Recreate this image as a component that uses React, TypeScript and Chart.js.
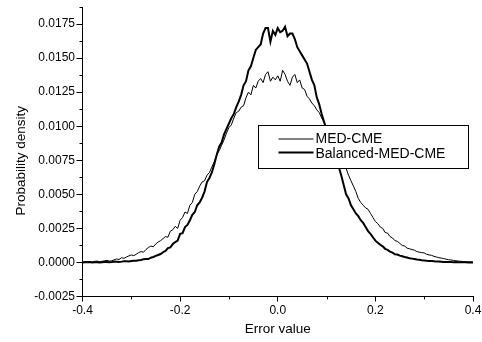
import { useEffect, useRef } from "react";
import { Chart, registerables } from "chart.js";

Chart.register(...registerables);

// Sampling grid of the error value axis (step 0.005 from -0.4 to 0.4)
const X_MIN = -0.4;
const X_STEP = 0.005;

// MED-CME probability density (thin line)
const medCme = [
  0.00003, 0.00006, 0.00005, 0.00002, 0.00004, 0.00008, 0.0001, 0.00005, 0.00008, 0.00012,
  0.00015, 0.0001, 0.00012, 0.0002, 0.00025, 0.00022, 0.00035, 0.0003, 0.0004, 0.00048,
  0.00055, 0.0005, 0.0006, 0.00072, 0.0008, 0.00075, 0.00095, 0.0011, 0.0012, 0.00115,
  0.00135, 0.0015, 0.0016, 0.00175, 0.0019, 0.00185, 0.0023, 0.0024, 0.00265, 0.0025,
  0.0031, 0.0033, 0.0037, 0.0036, 0.0042, 0.0044, 0.005, 0.0052, 0.0056, 0.0059,
  0.006, 0.0064, 0.0066, 0.007, 0.0074, 0.0079, 0.0082, 0.0086, 0.009, 0.0095,
  0.0099, 0.0101, 0.0106, 0.011, 0.0111, 0.0114, 0.0115, 0.0121, 0.0125, 0.0123,
  0.013, 0.0128, 0.0133, 0.0135, 0.0132, 0.0138, 0.014, 0.0133, 0.0136, 0.0134,
  0.0137, 0.0133, 0.0141, 0.0138, 0.0133, 0.013, 0.0136, 0.0138, 0.0132, 0.0134,
  0.0128, 0.0127, 0.0122, 0.012, 0.0117, 0.0115, 0.0112, 0.011, 0.0106, 0.0103,
  0.0098, 0.0094, 0.009, 0.0087, 0.0082, 0.0078, 0.0074, 0.0072, 0.0069, 0.0064,
  0.006, 0.0056, 0.0052, 0.0047, 0.0044, 0.0042, 0.004, 0.0039, 0.0036, 0.0033,
  0.003, 0.00285, 0.0026, 0.0025, 0.0022, 0.00215, 0.0019, 0.0018, 0.0016, 0.00155,
  0.0014, 0.00125, 0.0012, 0.00105, 0.001, 0.00095, 0.0009, 0.0008, 0.00075, 0.00072,
  0.0007, 0.0006, 0.00055, 0.00052, 0.00045, 0.0004, 0.00035, 0.00032, 0.00028, 0.00024,
  0.0002, 0.00018, 0.00015, 0.00012, 0.0001, 0.00008, 0.00007, 0.00005, 0.00004, 0.00003,
  0.00002,
];

// Balanced-MED-CME probability density (thick line)
const balancedMedCme = [
  0.0, 0.00002, 0.00001, 0.00003, 0.0, 0.00002, 0.00002, 0.0, 0.00001, 0.00004,
  0.00003, 0.00002, 0.00003, 0.00006, 0.00005, 0.00004, 0.00006, 0.00009, 0.00008, 0.00007,
  0.0001, 0.00013, 0.00012, 0.00016, 0.00018, 0.00024, 0.00026, 0.00025, 0.00035, 0.0004,
  0.00048, 0.00055, 0.00062, 0.00075, 0.00085, 0.00105, 0.0011, 0.00135, 0.0015, 0.0016,
  0.0021, 0.00215, 0.0026, 0.00275, 0.0031, 0.0035, 0.0037, 0.0042, 0.0044, 0.00475,
  0.0052, 0.0059, 0.0062, 0.0066, 0.0072, 0.0079, 0.0085, 0.0088, 0.0094, 0.0098,
  0.0102, 0.0106, 0.0109, 0.0114, 0.0118, 0.0123, 0.013, 0.0133, 0.0141, 0.0144,
  0.015, 0.0156, 0.0158, 0.016, 0.0168, 0.0172, 0.0172, 0.0162, 0.017, 0.0167,
  0.0172, 0.0169, 0.017, 0.0173, 0.0166, 0.0168, 0.0168, 0.0164, 0.0158, 0.0155,
  0.0152, 0.0149, 0.0146, 0.014, 0.0134, 0.013, 0.0121, 0.0116, 0.0109, 0.0103,
  0.0097, 0.0092, 0.0086, 0.0081, 0.0076, 0.007, 0.0064, 0.0057, 0.005, 0.0047,
  0.0042, 0.0039, 0.0036, 0.0034, 0.0031, 0.0029, 0.0026, 0.0023, 0.0021, 0.00185,
  0.0016, 0.00145, 0.0013, 0.00118, 0.001, 0.00092, 0.0008, 0.00072, 0.0006, 0.00058,
  0.0005, 0.00045, 0.0004, 0.00036, 0.0003, 0.00028, 0.00025, 0.00022, 0.0002, 0.00016,
  0.00015, 0.00012, 0.0001, 0.0001, 0.00008, 0.00006, 0.00006, 0.00005, 0.00004, 0.00004,
  0.00003, 0.00003, 0.00002, 0.00003, 0.00001, 0.00002, 0.00001, 0.00002, 0.0, 0.00001,
  0.0,
];

const seriesLabels = ["MED-CME", "Balanced-MED-CME"];

const xTicks = [-0.4, -0.2, 0, 0.2, 0.4];
const xTickLabels = ["-0.4", "-0.2", "0.0", "0.2", "0.4"];
const xMinorTicks = [-0.3, -0.1, 0.1, 0.3];

const yTicks = [-0.0025, 0, 0.0025, 0.005, 0.0075, 0.01, 0.0125, 0.015, 0.0175];
const yTickLabels = [
  "-0.0025", "0.0000", "0.0025", "0.0050", "0.0075", "0.0100", "0.0125", "0.0150", "0.0175",
];
const yMinorTicks = [-0.00125, 0.00125, 0.00375, 0.00625, 0.00875, 0.01125, 0.01375, 0.01625, 0.01875];

const xTitle = "Error value";
const yTitle = "Probability density";

const FONT = '"Liberation Sans", Arial, sans-serif';

const decorPlugin = {
  id: "decor",
  afterDatasetsDraw(chart: any) {
    const { ctx, chartArea } = chart;
    ctx.save();
    // legend box
    const bx = Math.round(chartArea.left + 175.5) + 0.5;
    const by = Math.round(chartArea.top + 118) + 0.5;
    const bw = 210;
    const bh = 43;
    ctx.fillStyle = "#fff";
    ctx.fillRect(bx, by, bw, bh);
    ctx.strokeStyle = "#000";
    ctx.lineWidth = 1;
    ctx.strokeRect(bx, by, bw, bh);
    const lineYs = [13.5, 27];
    const textYs = [17, 32.5];
    chart.data.datasets.forEach((ds: any, i: number) => {
      ctx.beginPath();
      ctx.lineWidth = ds.borderWidth;
      ctx.strokeStyle = "#000";
      ctx.moveTo(bx + 20, by + lineYs[i]);
      ctx.lineTo(bx + 55, by + lineYs[i]);
      ctx.stroke();
      ctx.fillStyle = "#000";
      ctx.font = `14px ${FONT}`;
      ctx.textAlign = "left";
      ctx.textBaseline = "alphabetic";
      ctx.fillText(ds.label, bx + 57, by + textYs[i]);
    });
    ctx.restore();
  },
  afterDraw(chart: any) {
    const { ctx, chartArea, scales } = chart;
    const xs = scales.x;
    const ys = scales.y;
    ctx.save();
    ctx.strokeStyle = "#000";
    ctx.lineWidth = 1;
    ctx.beginPath();
    xMinorTicks.forEach((v) => {
      const px = Math.round(xs.getPixelForValue(v)) + 0.5;
      ctx.moveTo(px, chartArea.bottom);
      ctx.lineTo(px, chartArea.bottom + 3);
    });
    yMinorTicks.forEach((v) => {
      const py = Math.round(ys.getPixelForValue(v)) + 0.5;
      ctx.moveTo(chartArea.left, py);
      ctx.lineTo(chartArea.left - 3, py);
    });
    ctx.stroke();
    // y axis title
    ctx.fillStyle = "#000";
    ctx.font = `13.5px ${FONT}`;
    ctx.textAlign = "center";
    ctx.textBaseline = "middle";
    ctx.translate(21, (chartArea.top + chartArea.bottom) / 2 + 9);
    ctx.rotate(-Math.PI / 2);
    ctx.fillText(yTitle, 0, 0);
    ctx.restore();
  },
};

export default function App() {
  const ref = useRef<HTMLCanvasElement | null>(null);

  useEffect(() => {
    if (!ref.current) return;
    const grid = medCme.map((_, i) => +(X_MIN + i * X_STEP).toFixed(3));
    const chart = new Chart(ref.current, {
      type: "line",
      data: {
        datasets: [
          {
            label: seriesLabels[0],
            data: grid.map((x, i) => ({ x, y: medCme[i] })),
            borderColor: "#000",
            borderWidth: 1,
            pointRadius: 0,
            tension: 0,
            fill: false,
          },
          {
            label: seriesLabels[1],
            data: grid.map((x, i) => ({ x, y: balancedMedCme[i] })),
            borderColor: "#000",
            borderWidth: 2,
            pointRadius: 0,
            tension: 0,
            fill: false,
          },
        ],
      },
      options: {
        animation: false,
        responsive: false,
        devicePixelRatio: 1,
        layout: { padding: { top: 7, right: 9, left: 0, bottom: 0 } },
        plugins: {
          legend: { display: false },
          tooltip: { enabled: false },
        },
        scales: {
          x: {
            type: "linear",
            min: -0.4,
            max: 0.4,
            afterBuildTicks: (s: any) => {
              s.ticks = xTicks.map((v) => ({ value: v }));
            },
            afterFit: (s: any) => {
              s.height = 45.5;
              s.paddingLeft = 0;
              s.paddingRight = 0;
            },
            ticks: {
              callback: (_v: any, i: number) => xTickLabels[i],
              color: "#000",
              font: { family: FONT, size: 12 },
              padding: 2,
              maxRotation: 0,
              autoSkip: false,
            },
            grid: {
              drawOnChartArea: false,
              drawTicks: true,
              tickLength: 5,
              color: "#000",
              lineWidth: 1,
            },
            border: { display: true, color: "#000", width: 1 },
            title: {
              display: true,
              text: xTitle,
              color: "#000",
              font: { family: FONT, size: 13.5 },
              padding: { top: 0, bottom: 5 },
            },
          },
          y: {
            type: "linear",
            min: -0.0025,
            max: 0.01875,
            afterBuildTicks: (s: any) => {
              s.ticks = yTicks.map((v) => ({ value: v }));
            },
            afterFit: (s: any) => {
              s.width = 82.5;
              s.paddingTop = 0;
              s.paddingBottom = 0;
            },
            ticks: {
              callback: (_v: any, i: number) => yTickLabels[i],
              color: "#000",
              font: { family: FONT, size: 12 },
              padding: 1.5,
              autoSkip: false,
            },
            grid: {
              drawOnChartArea: false,
              drawTicks: true,
              tickLength: 6,
              color: "#000",
              lineWidth: 1,
            },
            border: { display: true, color: "#000", width: 1 },
          },
        },
      } as any,
      plugins: [decorPlugin],
    });
    return () => chart.destroy();
  }, []);

  return (
    <div style={{ position: "fixed", left: 0, top: 0, width: 482, height: 342, background: "#fff" }}>
      <canvas ref={ref} width={482} height={342} />
    </div>
  );
}
